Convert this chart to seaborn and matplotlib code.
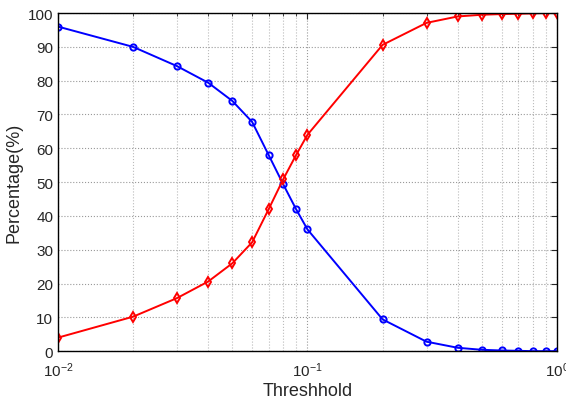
import pandas as pd
import matplotlib
matplotlib.use('Agg')
import matplotlib.pyplot as plt
import seaborn as sns

thresholds = [0.01, 0.02, 0.03, 0.04, 0.05, 0.06, 0.07, 0.08, 0.09, 0.1,
              0.2, 0.3, 0.4, 0.5, 0.6, 0.7, 0.8, 0.9, 1.0]
blue_vals = [96, 90, 84.3, 79.4, 74, 67.8, 57.9, 49.3, 42, 36,
             9.4, 2.8, 1.0, 0.4, 0.2, 0.1, 0, 0, 0]
red_vals = [4, 10.2, 15.7, 20.6, 26, 32.2, 42.1, 50.9, 58, 64,
            90.6, 97.1, 99, 99.5, 99.7, 99.8, 99.9, 100, 100]

sns.set_style('white')
plt.rcParams['font.family'] = ['Liberation Sans', 'DejaVu Sans']
plt.rcParams['mathtext.fontset'] = 'custom'
plt.rcParams['mathtext.rm'] = 'Liberation Sans'

fig = plt.figure(figsize=(5.66, 4.02), dpi=100)
ax = fig.add_axes([0.1025, 0.124, 0.8815, 0.841])

df = pd.DataFrame({'x': thresholds, 'blue': blue_vals, 'red': red_vals})
sns.lineplot(data=df, x='x', y='blue', color='#0000ff', marker='o', markersize=4.5,
             markerfacecolor='none', markeredgecolor='#0000ff', markeredgewidth=1.4,
             linewidth=1.4, ax=ax)
sns.lineplot(data=df, x='x', y='red', color='#ff0000', marker='d', markersize=5,
             markerfacecolor='none', markeredgecolor='#ff0000', markeredgewidth=1.4,
             linewidth=1.4, ax=ax)

ax.set_xscale('log')
ax.set_xlim(0.01, 1)
ax.set_ylim(0, 100)
ax.set_yticks(range(0, 101, 10))
ax.grid(True, which='major', axis='both', linestyle=':', color='#999999', linewidth=0.8)
ax.grid(True, which='minor', axis='x', linestyle=':', color='#bbbbbb', linewidth=0.8)
ax.tick_params(which='both', direction='in', top=True, right=True, labelsize=11)
ax.tick_params(which='major', length=4)
ax.tick_params(which='minor', length=2)
ax.tick_params(axis='x', which='major', pad=7)
for s in ax.spines.values():
    s.set_color('black')
    s.set_linewidth(1.0)

ax.set_xlabel('Threshhold', fontsize=13, labelpad=2)
ax.set_ylabel('Percentage(%)', fontsize=13)

fig.savefig('out.png', dpi=100)
